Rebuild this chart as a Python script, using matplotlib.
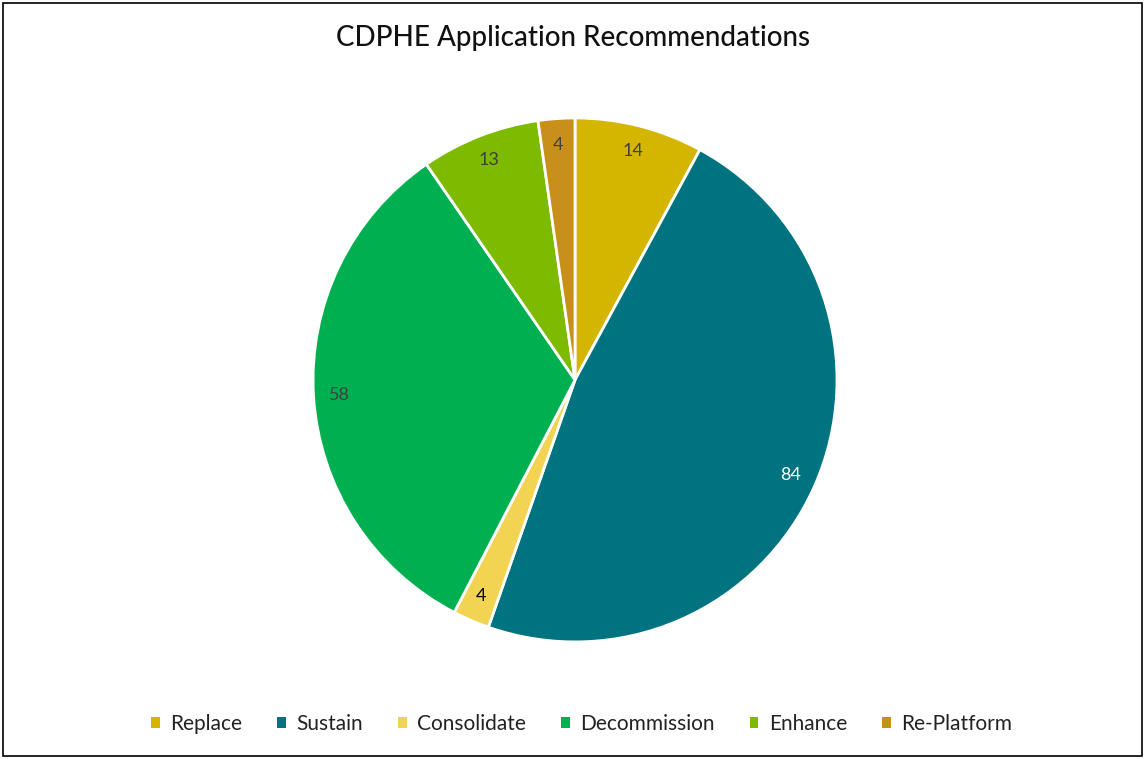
import matplotlib.pyplot as plt
from matplotlib.patches import Rectangle, Patch
import numpy as np

categories = ['Replace', 'Sustain', 'Consolidate', 'Decommission', 'Enhance', 'Re-Platform']
values = [14, 84, 4, 58, 13, 4]
colors = ['#D4B500', '#007380', '#F2D452', '#00B050', '#7DBA00', '#C8901A']
label_colors = ['#404040', '#FFFFFF', '#000000', '#404040', '#404040', '#404040']

plt.rcParams['font.family'] = ['Lato', 'DejaVu Sans']

fig = plt.figure(figsize=(11.45, 7.59), dpi=100)
fig.patches.append(Rectangle((0.003, 0.004), 0.994, 0.992, transform=fig.transFigure,
                             fill=False, edgecolor='black', linewidth=1.2))

ax = fig.add_axes([0.2734, 0.1542, 0.4576, 0.6904])
wedges, _ = ax.pie(values, colors=colors, startangle=90, counterclock=False,
                   radius=1.0, wedgeprops=dict(edgecolor='white', linewidth=2))
ax.set_xlim(-1, 1)
ax.set_ylim(-1, 1)
ax.set_aspect('equal')
ax.axis('off')

total = sum(values)
start = 90.0
for v, lc in zip(values, label_colors):
    ang = start - v / total * 360 / 2
    start -= v / total * 360
    r = 0.9
    ax.text(r * np.cos(np.radians(ang)), r * np.sin(np.radians(ang)), str(v),
            ha='center', va='center', fontsize=13, color=lc)

fig.text(0.5, 0.95, 'CDPHE Application Recommendations', ha='center', va='center',
         fontsize=20, color='#111111', fontweight='medium')

handles = [Patch(facecolor=c, edgecolor='none') for c in colors]
fig.legend(handles, categories, loc='center', bbox_to_anchor=(0.508, 0.046), ncol=6,
           frameon=False, fontsize=15, handlelength=0.4, handleheight=0.4,
           handletextpad=0.5, columnspacing=1.7, labelcolor='#222222')

fig.savefig('out.png', dpi=100)
